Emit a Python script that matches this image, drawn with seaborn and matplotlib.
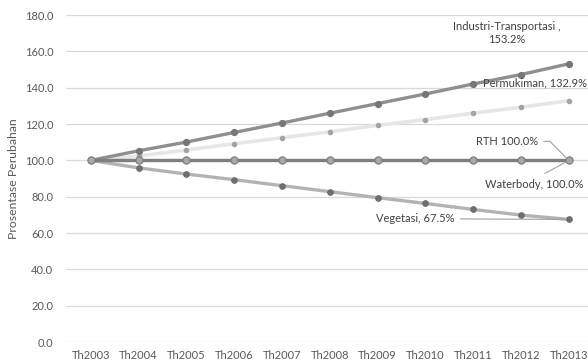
import pandas as pd
import matplotlib
matplotlib.use("Agg")
import matplotlib.pyplot as plt
import seaborn as sns

# Data
tahun = ["Th2003", "Th2004", "Th2005", "Th2006", "Th2007", "Th2008",
         "Th2009", "Th2010", "Th2011", "Th2012", "Th2013"]
industri = [100.0, 105.3, 110.1, 115.4, 120.6, 126.0, 131.3, 136.6, 142.1, 147.3, 153.2]
permukiman = [100.0, 102.4, 105.7, 109.2, 112.5, 115.8, 119.3, 122.5, 126.0, 129.3, 132.9]
rth = [100.0] * 11
waterbody = [100.0] * 11
vegetasi = [100.0, 95.9, 92.5, 89.4, 86.1, 82.8, 79.5, 76.3, 73.0, 69.9, 67.5]

series = {
    "Permukiman": permukiman,
    "Vegetasi": vegetasi,
    "Industri-Transportasi": industri,
    "Waterbody": waterbody,
    "RTH": rth,
}

# gaya tiap seri: warna garis, warna marker, ukuran marker, tebal garis
styles = {
    "Permukiman": ("#e6e6e6", "#a3a3a3", 3.2, 2.6),
    "Vegetasi": ("#b3b3b3", "#6e6e6e", 4.0, 2.4),
    "Industri-Transportasi": ("#8f8f8f", "#777777", 4.4, 2.4),
    "Waterbody": ("#7d7d7d", "#7d7d7d", 4.4, 2.4),
    "RTH": ("#7f7f7f", "#a8a8a8", 5.2, 2.2),
}

rows = []
for name, vals in series.items():
    for i, (t, v) in enumerate(zip(tahun, vals)):
        rows.append({"seri": name, "idx": i, "tahun": t, "nilai": v})
df = pd.DataFrame(rows)

sns.set_style("white")
plt.rcParams["font.family"] = ["Lato", "DejaVu Sans"]

fig = plt.figure(figsize=(5.88, 3.64), dpi=100)
ax = fig.add_axes([0.112, 0.0604, 0.888, 0.898])

for name in series:
    lc, mc, ms, lw = styles[name]
    sub = df[df["seri"] == name]
    sns.lineplot(data=sub, x="idx", y="nilai", ax=ax, color=lc, linewidth=lw,
                 marker="o", markersize=ms, markerfacecolor=mc,
                 markeredgecolor="#7a7a7a" if name == "RTH" else mc,
                 markeredgewidth=0.8, legend=False, zorder=3)

ax.set_xlim(-0.52, 10.4)
ax.set_ylim(0, 180)
ax.set_yticks(range(0, 181, 20))
ax.set_yticklabels([f"{v:.1f}" for v in range(0, 181, 20)])
ax.set_xticks(range(len(tahun)))
ax.set_xticklabels(tahun)
ax.grid(axis="y", color="#d9d9d9", linewidth=0.9)
ax.set_axisbelow(True)
for s in ax.spines.values():
    s.set_visible(False)
ax.tick_params(axis="both", length=0, labelsize=8, colors="#595959")
ax.tick_params(axis="y", pad=9)
ax.tick_params(axis="x", pad=6)
ax.set_xlabel("")
ax.set_ylabel("Prosentase Perubahan", fontsize=8.8, color="#595959", labelpad=4)

txt = dict(fontsize=8, color="#404040")
last = len(tahun) - 1
ax.annotate("Industri-Transportasi ,\n153.2%", xy=(last, industri[-1]),
            xytext=(8.7, 170), ha="center", va="center", **txt)
ax.annotate("Permukiman, 132.9%", xy=(last, permukiman[-1]),
            xytext=(10.38, 142.5), ha="right", va="center", **txt)
ax.annotate("RTH 100.0%", xy=(last, rth[-1]),
            xytext=(9.35, 110.5), ha="right", va="center",
            arrowprops=dict(arrowstyle="-", color="#a0a0a0", lw=0.8,
                            connectionstyle="angle,angleA=0,angleB=-45,rad=0",
                            shrinkA=2, shrinkB=2), **txt)
ax.annotate("Waterbody, 100.0%", xy=(last, waterbody[-1]),
            xytext=(10.3, 86.5), ha="right", va="center",
            arrowprops=dict(arrowstyle="-", color="#a0a0a0", lw=0.8,
                            relpos=(0.5, 1.0), shrinkA=4, shrinkB=3), **txt)
ax.annotate("Vegetasi, 67.5%", xy=(last, vegetasi[-1]),
            xytext=(7.6, 67.8), ha="right", va="center",
            arrowprops=dict(arrowstyle="-", color="#a0a0a0", lw=0.8,
                            relpos=(1.0, 0.5), shrinkA=2, shrinkB=3), **txt)

plt.savefig("out.png", dpi=100)
